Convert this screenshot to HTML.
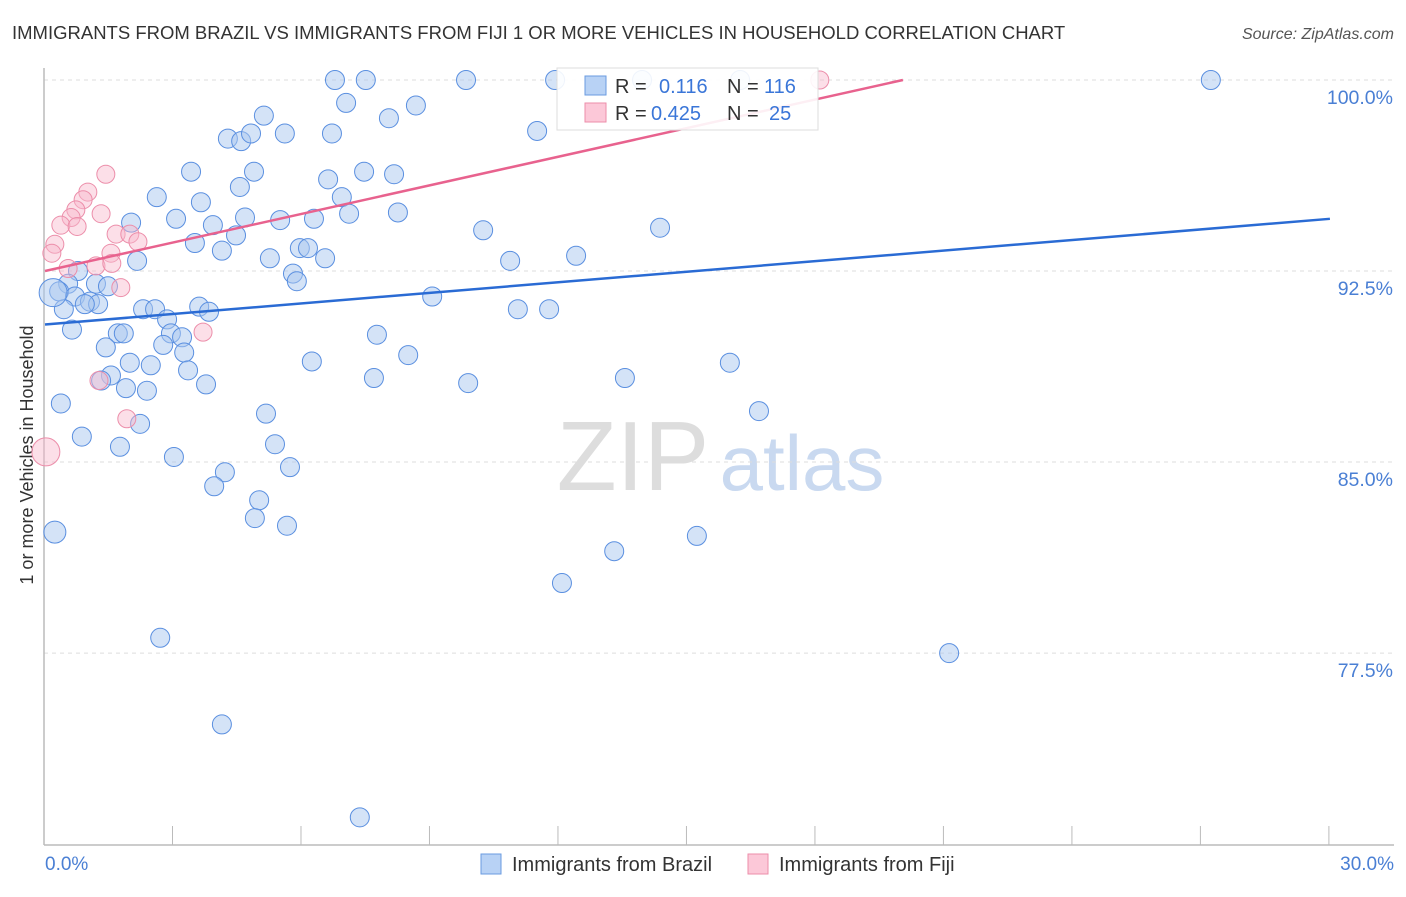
<!DOCTYPE html>
<html><head><meta charset="utf-8"><style>
body{margin:0;background:#fff;font-family:"Liberation Sans",sans-serif}
svg text{font-family:"Liberation Sans",sans-serif}
</style></head><body>
<svg id="chart" width="1406" height="892" xmlns="http://www.w3.org/2000/svg">
<text x="12" y="39" font-size="18.5" fill="#333">IMMIGRANTS FROM BRAZIL VS IMMIGRANTS FROM FIJI 1 OR MORE VEHICLES IN HOUSEHOLD CORRELATION CHART</text>
<text x="1394" y="39" font-size="16" fill="#555" font-style="italic" text-anchor="end">Source: ZipAtlas.com</text>
<g>
<text x="633" y="490" font-size="98" fill="#ddd" font-family="Liberation Serif, serif" text-anchor="middle">ZIP</text>
<text x="802" y="490" font-size="78" fill="#c9d9f0" text-anchor="middle">atlas</text>
</g>
<g id="grid"></g>
<line x1="44" y1="68" x2="44" y2="845" stroke="#bbb" stroke-width="1.5"/>
<line x1="44" y1="845" x2="1394" y2="845" stroke="#bbb" stroke-width="1.5"/>
<g id="xticks"></g>
<text transform="translate(33,455) rotate(-90)" font-size="18" fill="#333" text-anchor="middle">1 or more Vehicles in Household</text>
<text x="45" y="870" font-size="19" fill="#4a7fd4">0.0%</text>
<text x="1394" y="870" font-size="19" fill="#4a7fd4" text-anchor="end">30.0%</text>
<g id="points"></g>
<g id="trends"></g>
<g>
<rect x="557" y="68" width="261" height="62" fill="#fff" fill-opacity="0.9" stroke="#ddd"/>
<rect x="585" y="76" width="21" height="19" fill="#b8d2f5" stroke="#6a9be0"/>
<rect x="585" y="103" width="21" height="19" fill="#fcc8d8" stroke="#ec8eaa"/>
<text x="615" y="93" font-size="20" fill="#333">R = </text><text x="659" y="93" font-size="20" fill="#3a76d8">0.116</text>
<text x="727" y="93" font-size="20" fill="#333">N = </text><text x="764" y="93" font-size="20" fill="#3a76d8">116</text>
<text x="615" y="120" font-size="20" fill="#333">R = </text><text x="651" y="120" font-size="20" fill="#3a76d8">0.425</text>
<text x="727" y="120" font-size="20" fill="#333">N = </text><text x="769" y="120" font-size="20" fill="#3a76d8">25</text>
</g>
<g>
<rect x="481" y="854" width="20" height="20" fill="#b8d2f5" stroke="#6a9be0"/>
<text x="512" y="871" font-size="20" fill="#333">Immigrants from Brazil</text></g>
<g>
<rect x="748" y="854" width="20" height="20" fill="#fcc8d8" stroke="#ec8eaa"/>
<text x="779" y="871" font-size="20" fill="#333">Immigrants from Fiji</text></g>
</svg>
<script>
const yTicks=[100,92.5,85,77.5];
const yTickLabels=["100.0%","92.5%","85.0%","77.5%"];
const xTicks=[0,3,6,9,12,15,18,21,24,27,30];
const brazilX=[6.77,7.49,9.83,11.91,13.94,16.23,27.22,7.03,8.66,5.11,8.03,4.27,4.58,4.81,5.60,6.70,11.49,3.41,4.88,7.45,8.15,4.55,6.61,2.61,6.93,3.64,3.06,2.01,4.67,5.49,6.28,7.10,8.24,3.92,4.46,10.23,14.36,3.50,4.13,5.95,6.14,5.25,6.54,10.86,12.40,2.15,0.77,5.79,5.88,0.54,1.19,1.47,0.33,0.70,1.05,1.24,0.93,9.04,2.29,2.57,2.85,3.60,3.83,11.04,11.77,0.44,0.63,1.70,1.84,2.94,3.20,2.76,1.42,3.25,7.75,8.48,6.23,1.98,2.47,1.54,3.34,1.31,3.76,1.89,2.38,7.68,9.88,13.54,15.99,0.37,5.16,16.67,2.22,0.86,1.75,5.37,3.01,5.72,4.20,3.95,5.00,4.90,5.65,0.23,13.29,15.22,12.07,2.69,21.11,4.13,7.35,0.19];
const brazilY=[100,100,100,100,100,100,100,99.1,99.0,98.6,98.5,97.7,97.6,97.9,97.9,97.9,98.0,96.4,96.4,96.4,96.3,95.8,96.1,95.4,95.4,95.2,94.55,94.4,94.6,94.5,94.55,94.75,94.8,94.3,93.9,94.1,94.2,93.6,93.3,93.4,93.4,93.0,93.0,92.9,93.1,92.9,92.5,92.4,92.1,92.0,92.0,91.9,91.7,91.5,91.3,91.2,91.2,91.5,91.0,91.0,90.6,91.1,90.9,91.0,91.0,91.0,90.2,90.05,90.05,90.05,89.9,89.6,89.5,89.3,90.0,89.2,88.95,88.9,88.8,88.4,88.6,88.2,88.05,87.9,87.8,88.3,88.1,88.3,88.9,87.3,86.9,87.0,86.5,86.0,85.6,85.7,85.2,84.8,84.6,84.05,83.5,82.8,82.5,82.25,81.5,82.1,80.25,78.1,77.5,74.7,71.05,91.65];
const fijiX=[18.09,1.42,1.00,0.89,0.72,1.31,0.61,0.37,0.75,1.66,1.98,2.17,0.23,0.16,1.54,0.54,1.19,1.56,1.77,3.69,1.26,1.91,0.02];
const fijiY=[100,96.3,95.6,95.3,94.9,94.75,94.6,94.3,94.25,93.95,93.95,93.65,93.55,93.2,93.2,92.6,92.7,92.8,91.85,90.1,88.2,86.7,85.4];
const brazilTrendX=[0,30], brazilTrendY=[90.4,94.55];
const fijiTrendX=[0,20.03], fijiTrendY=[92.5,100];
const NS="http://www.w3.org/2000/svg";
const xs=v=>45+v*42.83;
const ys=v=>80+(100-v)*25.47;
function mk(tag,attrs,parent){const e=document.createElementNS(NS,tag);for(const k in attrs)e.setAttribute(k,attrs[k]);parent.appendChild(e);return e;}
const grid=document.getElementById('grid');
yTicks.forEach((t,i)=>{
 const l=mk('line',{x1:44,x2:1394,y1:ys(t),y2:ys(t),stroke:'#ddd','stroke-dasharray':'4,4'},grid);
 
 
 const tx=mk('text',{x:1393,y:ys(t)+24,'font-size':19.5,fill:'#4a7fd4','text-anchor':'end'},grid);
 tx.textContent=yTickLabels[i];
 
 
});
const xt=document.getElementById('xticks');
xTicks.forEach(t=>{
 const l=mk('line',{x1:xs(t)-1,x2:xs(t)-1,y1:826,y2:845,stroke:'#bbb'},xt);
 
 
});
const pts=document.getElementById('points');
brazilX.forEach((x,i)=>{
 const big=(i===brazilX.length-1)?14:(brazilY[i]===82.25?11:9.5);
 const c=mk('circle',{cx:xs(x),cy:ys(brazilY[i]),r:big,fill:'#a9c8f0','fill-opacity':0.5,stroke:'#5a8fe0','stroke-width':1},pts);
 
 
});
fijiX.forEach((x,i)=>{
 const r=(i===fijiX.length-1)?14:9;
 const c=mk('circle',{cx:xs(x),cy:ys(fijiY[i]),r:r,fill:'#f8b8cc','fill-opacity':0.45,stroke:'#ec8eaa','stroke-width':1},pts);
 
 
});
const tr=document.getElementById('trends');
const b=mk('line',{x1:xs(brazilTrendX[0]),y1:ys(brazilTrendY[0]),x2:xs(brazilTrendX[1]),y2:ys(brazilTrendY[1]),stroke:'#2a6bd4','stroke-width':2.5},tr);


const f=mk('line',{x1:xs(fijiTrendX[0]),y1:ys(fijiTrendY[0]),x2:xs(fijiTrendX[1]),y2:ys(fijiTrendY[1]),stroke:'#e8628e','stroke-width':2.5},tr);


</script>
</body></html>
